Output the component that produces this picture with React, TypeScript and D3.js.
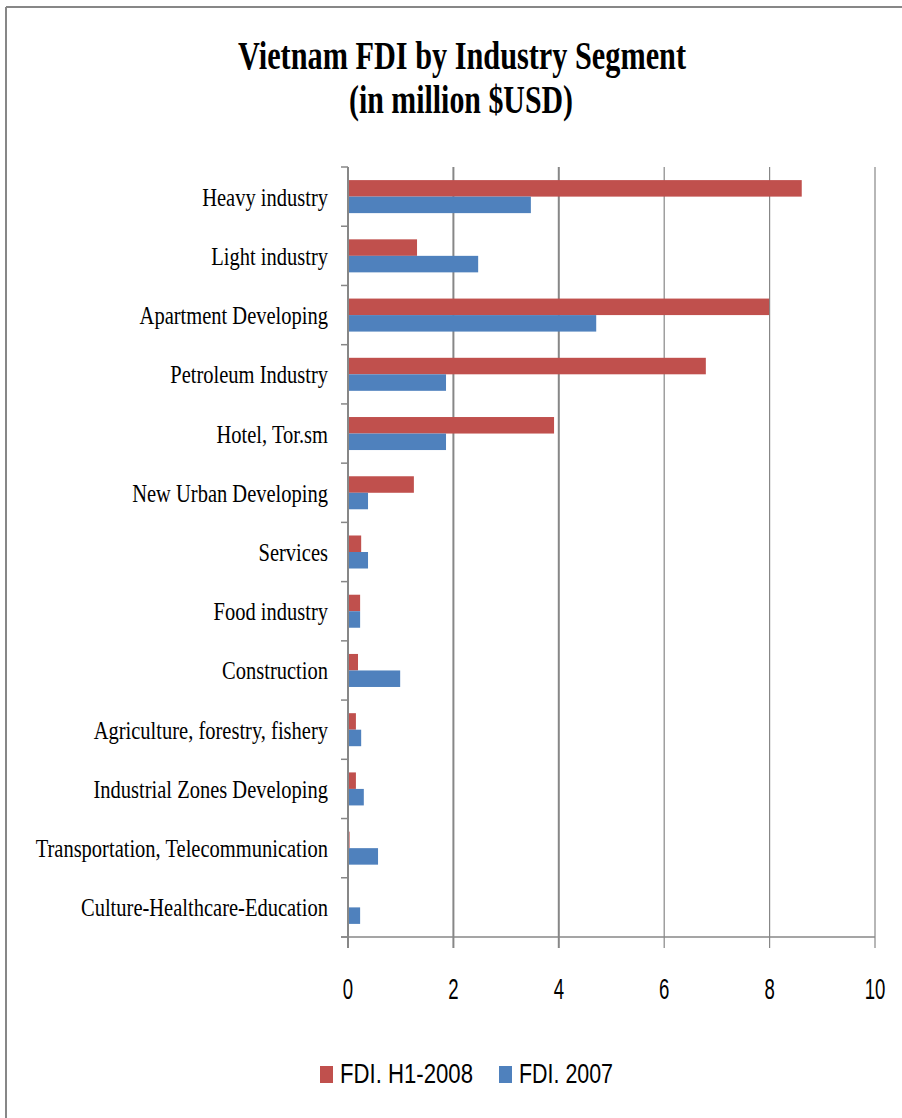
import React from "react";
import * as d3 from "d3";

const categories = [
  "Heavy industry",
  "Light industry",
  "Apartment Developing",
  "Petroleum Industry",
  "Hotel, Tor.sm",
  "New Urban Developing",
  "Services",
  "Food industry",
  "Construction",
  "Agriculture, forestry, fishery",
  "Industrial Zones Developing",
  "Transportation, Telecommunication",
  "Culture-Healthcare-Education",
];
const fdiH12008 = [8.61, 1.31, 7.99, 6.79, 3.91, 1.25, 0.25, 0.23, 0.19, 0.15, 0.15, 0.03, 0];
const fdi2007 = [3.47, 2.47, 4.71, 1.86, 1.86, 0.38, 0.38, 0.23, 0.99, 0.25, 0.3, 0.57, 0.23];
const seriesNames = ["FDI. H1-2008", "FDI. 2007"];
const seriesColors = ["#C0504D", "#4F81BD"];
const xTicks = [0, 2, 4, 6, 8, 10];
const titleLines = ["Vietnam FDI by Industry Segment", "(in million $USD)"];

export default function App() {
  const W = 902;
  const H = 1118;
  const left = 348;
  const right = 875;
  const top = 167;
  const bottom = 937;
  const x = d3.scaleLinear().domain([0, 10]).range([left, right]);
  const y = d3.scaleBand<string>().domain(categories).range([top, bottom]).paddingInner(0).paddingOuter(0);
  const inner = d3.scaleBand<string>().domain(seriesNames).range([0, y.bandwidth()]).paddingInner(0).paddingOuter(0.794);
  const series = [fdiH12008, fdi2007];
  const grid = "#878787";
  const boundaries = d3.range(categories.length + 1).map((i) => top + i * y.step());

  return (
    <svg width={W} height={H} style={{ position: "absolute", left: 0, top: 0, background: "#fff" }}>
      <rect x={0} y={0} width={W} height={H} fill="#fff" />
      {/* outer frame */}
      <line x1={6} y1={7} x2={W + 5} y2={7} stroke={grid} strokeWidth={2} />
      <line x1={6} y1={7} x2={6} y2={H + 5} stroke={grid} strokeWidth={2} />

      {/* title */}
      <g fontFamily="'Liberation Serif', 'Times New Roman', serif" fontWeight="bold" fontSize={40} fill="#000">
        <text x={462} y={69} textAnchor="middle" textLength={448} lengthAdjust="spacingAndGlyphs">
          {titleLines[0]}
        </text>
        <text x={461} y={113} textAnchor="middle" textLength={224} lengthAdjust="spacingAndGlyphs">
          {titleLines[1]}
        </text>
      </g>

      {/* gridlines */}
      {xTicks.filter((t) => t > 0).map((t) => (
        <line key={"g" + t} x1={x(t)} x2={x(t)} y1={top} y2={bottom} stroke={grid} strokeWidth={t <= 4 ? 2 : 1.2} />
      ))}

      {/* bars */}
      {categories.map((c, i) => (
        <g key={c}>
          {series.map((s, k) => (
            <rect
              key={k}
              x={x(0)}
              y={(y(c) as number) + (inner(seriesNames[k]) as number)}
              width={Math.max(0, x(s[i]) - x(0))}
              height={inner.bandwidth()}
              fill={seriesColors[k]}
            />
          ))}
        </g>
      ))}

      {/* axes */}
      <line x1={left} x2={left} y1={top} y2={bottom + 11} stroke={grid} strokeWidth={2} />
      <line x1={left - 7} x2={right} y1={bottom} y2={bottom} stroke={grid} strokeWidth={1.5} />
      {boundaries.map((b, i) => (
        <line key={"b" + i} x1={left - 7} x2={left} y1={b} y2={b} stroke={grid} strokeWidth={1.5} />
      ))}
      {xTicks.map((t) => (
        <line key={"t" + t} x1={x(t)} x2={x(t)} y1={bottom} y2={bottom + 11} stroke={grid} strokeWidth={t <= 4 ? 2 : 1.2} />
      ))}

      {/* category labels */}
      <g fontFamily="'Liberation Serif', 'Times New Roman', serif" fontSize={25} fill="#000">
        {categories.map((c) => (
          <text
            key={c}
            transform={`translate(328, ${(y(c) as number) + y.bandwidth() / 2 + 9}) scale(0.82, 1)`}
            textAnchor="end"
          >
            {c}
          </text>
        ))}
      </g>

      {/* x tick labels */}
      <g fontFamily="'Liberation Sans', Arial, sans-serif" fontSize={30} fill="#000">
        {xTicks.map((t) => (
          <text key={"l" + t} transform={`translate(${x(t)}, 999) scale(0.62, 1)`} textAnchor="middle">
            {t}
          </text>
        ))}
      </g>

      {/* legend */}
      <g fontFamily="'Liberation Sans', Arial, sans-serif" fontSize={28} fill="#000">
        <rect x={320} y={1066} width={13} height={17} fill={seriesColors[0]} />
        <text x={340} y={1083} textLength={133} lengthAdjust="spacingAndGlyphs">
          {seriesNames[0]}
        </text>
        <rect x={499} y={1066} width={13} height={17} fill={seriesColors[1]} />
        <text x={519} y={1083} textLength={94} lengthAdjust="spacingAndGlyphs">
          {seriesNames[1]}
        </text>
      </g>
    </svg>
  );
}
